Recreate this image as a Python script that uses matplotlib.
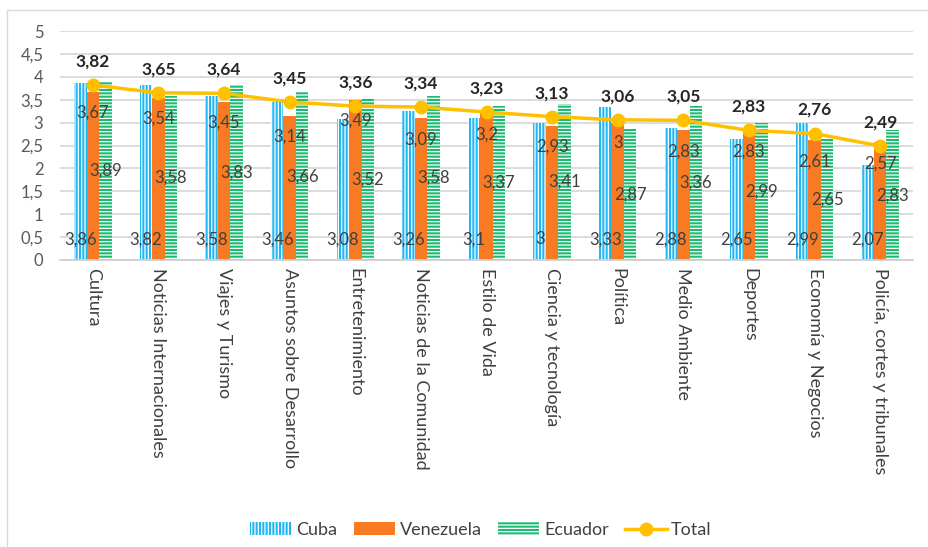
import matplotlib
matplotlib.use('Agg')
import matplotlib.pyplot as plt
from matplotlib.patches import Rectangle, Patch
from matplotlib.lines import Line2D
import numpy as np

categories = ["Cultura", "Noticias Internacionales", "Viajes y Turismo",
              "Asuntos sobre Desarrollo", "Entretenimiento", "Noticias de la Comunidad",
              "Estilo de Vida", "Ciencia y tecnología", "Política", "Medio Ambiente",
              "Deportes", "Economía y Negocios", "Policía, cortes y tribunales"]
cuba = [3.86, 3.82, 3.58, 3.46, 3.08, 3.26, 3.1, 3, 3.33, 2.88, 2.65, 2.99, 2.07]
venezuela = [3.67, 3.54, 3.45, 3.14, 3.49, 3.09, 3.2, 2.93, 3, 2.83, 2.83, 2.61, 2.57]
ecuador = [3.89, 3.58, 3.83, 3.66, 3.52, 3.58, 3.37, 3.41, 2.87, 3.36, 2.99, 2.65, 2.83]
total = [3.82, 3.65, 3.64, 3.45, 3.36, 3.34, 3.23, 3.13, 3.06, 3.05, 2.83, 2.76, 2.49]
series_names = ["Cuba", "Venezuela", "Ecuador", "Total"]
yticks = [0, 0.5, 1, 1.5, 2, 2.5, 3, 3.5, 4, 4.5, 5]

plt.rcParams['font.family'] = ['Lato', 'DejaVu Sans']
plt.rcParams['hatch.linewidth'] = 0.9

def fmt(v):
    return f"{v:g}".replace('.', ',')

TXT = '#404040'
C_CUBA = '#20b8f2'
C_VEN = '#f87a22'
C_ECU = '#1dbb72'
C_TOT = '#ffc000'

fig = plt.figure(figsize=(9.29, 5.47), dpi=100)
ax = fig.add_axes([60/929, 1-260/547, 853/929, 229/547])

x = np.arange(len(categories))
w = 0.19
ax.bar(x - w, cuba, w, color=C_CUBA, hatch='|||||', edgecolor='white', linewidth=0, zorder=2)
ax.bar(x, venezuela, w, color=C_VEN, linewidth=0, zorder=2)
ax.bar(x + w, ecuador, w, color=C_ECU, hatch='-----', edgecolor='white', linewidth=0, zorder=2)
ax.plot(x, total, color=C_TOT, lw=2.5, marker='o', ms=9, zorder=3)

fs = 12
for i in range(len(categories)):
    ax.annotate(fmt(cuba[i]), (x[i] - w, 0), xytext=(0, 15), textcoords='offset points',
                ha='center', va='center', fontsize=fs, color=TXT, zorder=5)
    ax.annotate(fmt(venezuela[i]), (x[i], venezuela[i]), xytext=(0, -15), textcoords='offset points',
                ha='center', va='center', fontsize=fs, color=TXT, zorder=5)
    ax.annotate(fmt(ecuador[i]), (x[i] + w, ecuador[i] / 2), xytext=(0, 0), textcoords='offset points',
                ha='center', va='center', fontsize=fs, color=TXT, zorder=5)
    ax.annotate(fmt(total[i]), (x[i], total[i]), xytext=(0, 17), textcoords='offset points',
                ha='center', va='center', fontsize=12.5, color='#262626', fontweight='bold', zorder=5)

ax.set_xlim(-0.5, len(categories) - 0.5)
ax.set_ylim(0, 5)
ax.set_yticks(yticks)
ax.set_yticklabels([fmt(v) for v in yticks], fontsize=12, color='#595959')
ax.set_xticks(x)
ax.set_xticklabels(categories, rotation=-90, ha='center', va='top', fontsize=13, color=TXT)
ax.tick_params(length=0)
ax.tick_params(axis='x', pad=6)
ax.tick_params(axis='y', pad=12)
ax.grid(axis='y', color='#d9d9d9', lw=1.3, zorder=0)
ax.set_axisbelow(True)
for s in ['top', 'right', 'left']:
    ax.spines[s].set_visible(False)
ax.spines['bottom'].set_color('#d0d0d0')
ax.spines['bottom'].set_linewidth(1.3)

handles = [
    Patch(facecolor=C_CUBA, hatch='|||||', edgecolor='white', linewidth=0),
    Patch(facecolor=C_VEN, linewidth=0),
    Patch(facecolor=C_ECU, hatch='-----', edgecolor='white', linewidth=0),
    Line2D([0], [0], color=C_TOT, lw=2.5, marker='o', ms=9),
]
leg = fig.legend(handles, series_names, loc='center', bbox_to_anchor=(481/929, 1 - 530/547),
                 ncol=4, frameon=False, fontsize=13, handlelength=2.3, handleheight=0.7,
                 columnspacing=0.9, handletextpad=0.25)
for t in leg.get_texts():
    t.set_color(TXT)

fig.patches.append(Rectangle((7/929, -0.1), 1.0, 1 - 10/547 + 0.1, transform=fig.transFigure,
                             fill=False, edgecolor='#d9d9d9', lw=1))

fig.savefig('out.png', dpi=100)
